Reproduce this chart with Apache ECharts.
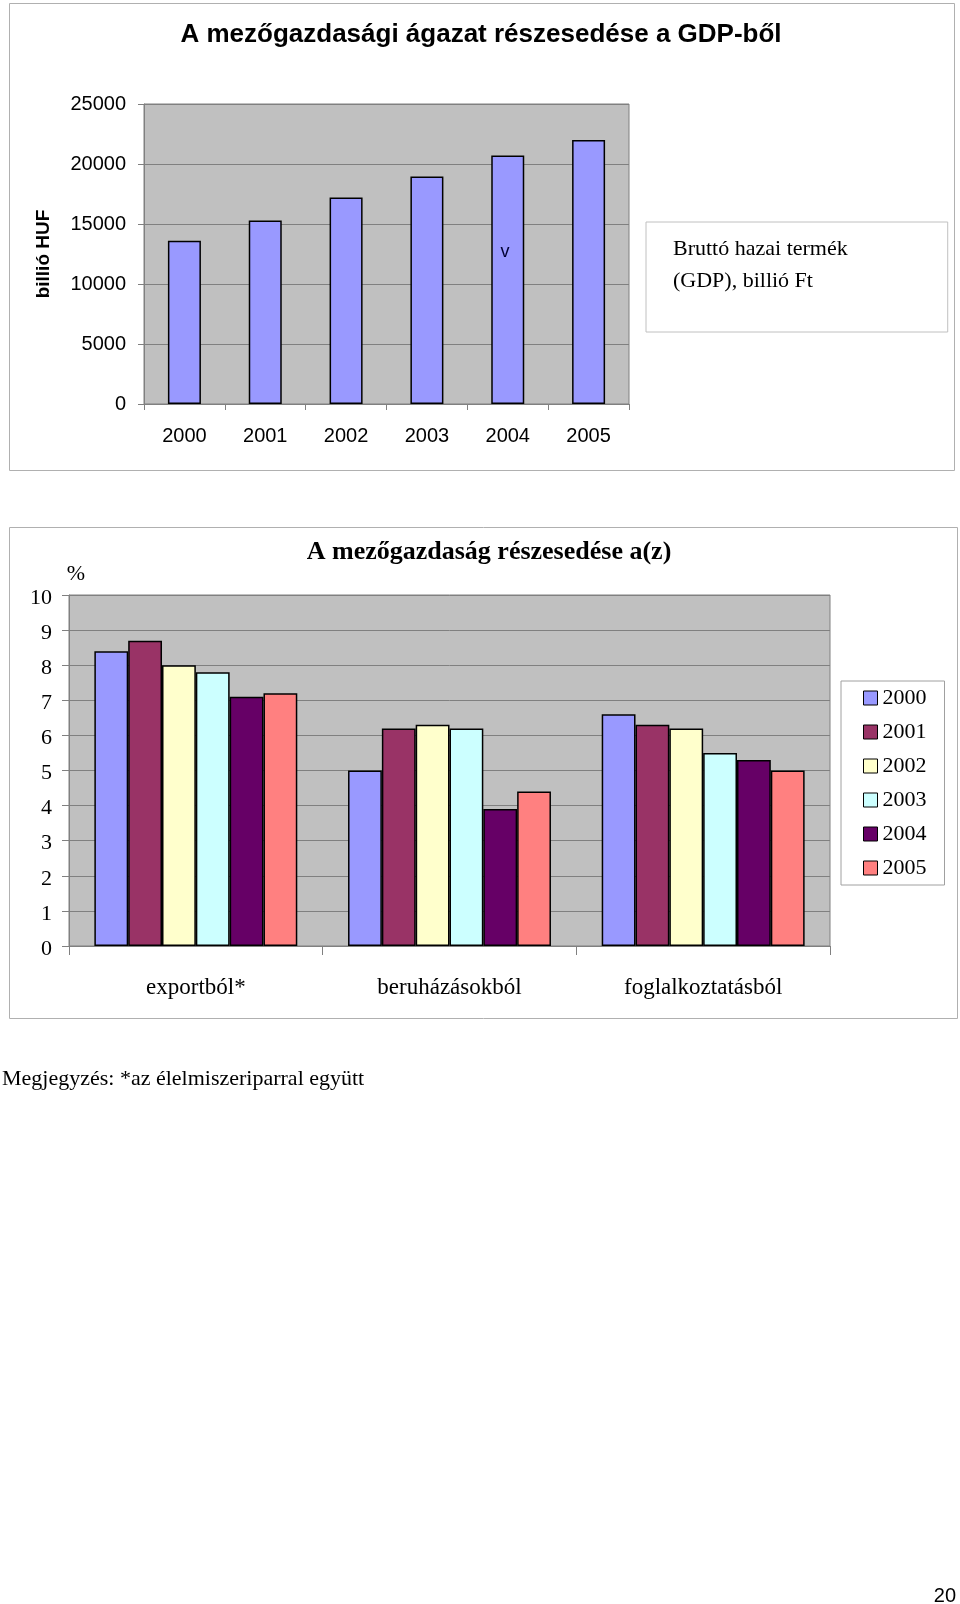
<!DOCTYPE html>
<html>
<head>
<meta charset="utf-8">
<script src="https://cdn.jsdelivr.net/npm/echarts@6/dist/echarts.min.js"></script>
<style>
html,body{margin:0;padding:0;background:#fff;}
#chart{width:960px;height:1604px;}
</style>
</head>
<body>
<div id="chart"></div>
<script>
// ---- data ----
const gdpYears = ['2000', '2001', '2002', '2003', '2004', '2005'];
const gdpValues = [13600, 15300, 17200, 18950, 20700, 22000];
const gdpSeriesName = 'Bruttó hazai termék\n(GDP), billió Ft';
const gdpTicks = [0, 5000, 10000, 15000, 20000, 25000];

const shareCategories = ['exportból*', 'beruházásokból', 'foglalkoztatásból'];
const shareYears = ['2000', '2001', '2002', '2003', '2004', '2005'];
const share2000 = [8.4, 5.0, 6.6];
const share2001 = [8.7, 6.2, 6.3];
const share2002 = [8.0, 6.3, 6.2];
const share2003 = [7.8, 6.2, 5.5];
const share2004 = [7.1, 3.9, 5.3];
const share2005 = [7.2, 4.4, 5.0];
const shareTicks = [0, 1, 2, 3, 4, 5, 6, 7, 8, 9, 10];

const topTitle = 'A mezőgazdasági ágazat részesedése a GDP-ből';
const bottomTitle = 'A mezőgazdaság részesedése a(z)';
const footnote = 'Megjegyzés: *az élelmiszeriparral együtt';
const pageNumber = '20';

// ---- styles ----
const SANS = '"Liberation Sans", Arial, sans-serif';
const SERIF = '"Liberation Serif", "Times New Roman", serif';
const shareColors = ['#9999ff', '#993366', '#ffffcc', '#ccffff', '#660066', '#ff8080'];
const shareData = [share2000, share2001, share2002, share2003, share2004, share2005];

const chart = echarts.init(document.getElementById('chart'), null, {renderer: 'canvas'});

const option = {
  backgroundColor: '#ffffff',
  animation: false,
  grid: [
    {left: 144, top: 104, width: 485, height: 300, show: true,
     backgroundColor: '#c0c0c0', borderColor: '#808080', borderWidth: 1, containLabel: false},
    {left: 69, top: 595, width: 761, height: 351, show: true,
     backgroundColor: '#c0c0c0', borderColor: '#808080', borderWidth: 1, containLabel: false}
  ],
  xAxis: [
    {type: 'category', gridIndex: 0, data: gdpYears,
     axisLine: {show: true, lineStyle: {color: '#808080', width: 1}},
     axisTick: {show: true, length: 6, alignWithLabel: false, lineStyle: {color: '#808080'}},
     axisLabel: {fontFamily: SANS, fontSize: 20, color: '#000', margin: 22},
     splitLine: {show: false}},
    {type: 'category', gridIndex: 1, data: shareCategories,
     axisLine: {show: true, lineStyle: {color: '#808080', width: 1}},
     axisTick: {show: true, length: 9, alignWithLabel: false, lineStyle: {color: '#808080'}},
     axisLabel: {fontFamily: SERIF, fontSize: 23, color: '#000', margin: 30},
     splitLine: {show: false}}
  ],
  yAxis: [
    {type: 'value', gridIndex: 0, min: gdpTicks[0], max: gdpTicks[gdpTicks.length - 1], interval: 5000,
     name: 'billió HUF', nameLocation: 'middle', nameRotate: 90, nameGap: 91,
     nameTextStyle: {fontFamily: SANS, fontSize: 19, fontWeight: 'bold', color: '#000'},
     axisLine: {show: true, lineStyle: {color: '#808080', width: 1}},
     axisTick: {show: true, length: 6, lineStyle: {color: '#808080'}},
     axisLabel: {fontFamily: SANS, fontSize: 20, color: '#000', margin: 18,
                 formatter: v => String(v)},
     splitLine: {show: true, lineStyle: {color: '#808080', width: 1}}},
    {type: 'value', gridIndex: 1, min: shareTicks[0], max: shareTicks[shareTicks.length - 1], interval: 1,
     axisLine: {show: true, lineStyle: {color: '#808080', width: 1}},
     axisTick: {show: true, length: 7, lineStyle: {color: '#808080'}},
     axisLabel: {fontFamily: SERIF, fontSize: 22, color: '#000', margin: 17,
                 verticalAlign: 'top', lineHeight: 22, padding: [-8, 0, 0, 0],
                 formatter: v => String(v)},
     splitLine: {show: true, lineStyle: {color: '#808080', width: 1}}}
  ],
  legend: [
    {id: 'gdpLegend', data: [gdpSeriesName], orient: 'vertical', left: 646, top: 222,
     itemWidth: 0, itemHeight: 0, icon: 'rect',
     padding: [11, 100, 35, 21], borderColor: '#c0c0c0', borderWidth: 1,
     selectedMode: false,
     textStyle: {fontFamily: SERIF, fontSize: 22, color: '#000', lineHeight: 32}},
    {id: 'shareLegend', data: shareYears, orient: 'vertical', left: 841, top: 681,
     itemWidth: 14, itemHeight: 14, itemGap: 12, icon: 'rect',
     padding: [6, 18, 6, 22], borderColor: '#a0a0a0', borderWidth: 1,
     selectedMode: false,
     itemStyle: {borderColor: '#000', borderWidth: 1},
     textStyle: {fontFamily: SERIF, fontSize: 22, color: '#000', lineHeight: 22}}
  ],
  series: [
    {type: 'bar', name: gdpSeriesName, xAxisIndex: 0, yAxisIndex: 0, data: gdpValues,
     barWidth: 33,
     itemStyle: {color: '#9999ff', borderColor: '#000', borderWidth: 1.5}}
  ].concat(shareYears.map((y, i) => ({
    type: 'bar', name: y, xAxisIndex: 1, yAxisIndex: 1, data: shareData[i],
    barGap: '0%', barCategoryGap: '20%',
    itemStyle: {color: shareColors[i], borderColor: '#000', borderWidth: 1.5}
  }))),
  graphic: [
    {type: 'rect', shape: {x: 9.5, y: 3.5, width: 945, height: 467}, silent: true, z: -10,
     style: {fill: 'none', stroke: '#b0b0b0', lineWidth: 1}},
    {type: 'rect', shape: {x: 9.5, y: 527.5, width: 948, height: 491}, silent: true, z: -10,
     style: {fill: 'none', stroke: '#b0b0b0', lineWidth: 1}},
    {type: 'text', x: 481, y: 35, silent: true,
     style: {text: topTitle, font: 'bold 26px ' + SANS, fill: '#000', textAlign: 'center', textVerticalAlign: 'middle'}},
    {type: 'text', x: 505, y: 252, silent: true, z: 100,
     style: {text: 'v', font: '18px ' + SANS, fill: '#000033', textAlign: 'center', textVerticalAlign: 'middle'}},
    {type: 'text', x: 489, y: 552, silent: true,
     style: {text: bottomTitle, font: 'bold 26px ' + SERIF, fill: '#000', textAlign: 'center', textVerticalAlign: 'middle'}},
    {type: 'text', x: 76, y: 574, silent: true,
     style: {text: '%', font: '22px ' + SERIF, fill: '#000', textAlign: 'center', textVerticalAlign: 'middle'}},
    {type: 'text', x: 2, y: 1079, silent: true,
     style: {text: footnote, font: '22px ' + SERIF, fill: '#000', textAlign: 'left', textVerticalAlign: 'middle'}},
    {type: 'text', x: 956, y: 1596, silent: true,
     style: {text: pageNumber, font: '20px ' + SANS, fill: '#000', textAlign: 'right', textVerticalAlign: 'middle'}}
  ]
};
chart.setOption(option);
</script>
</body>
</html>
